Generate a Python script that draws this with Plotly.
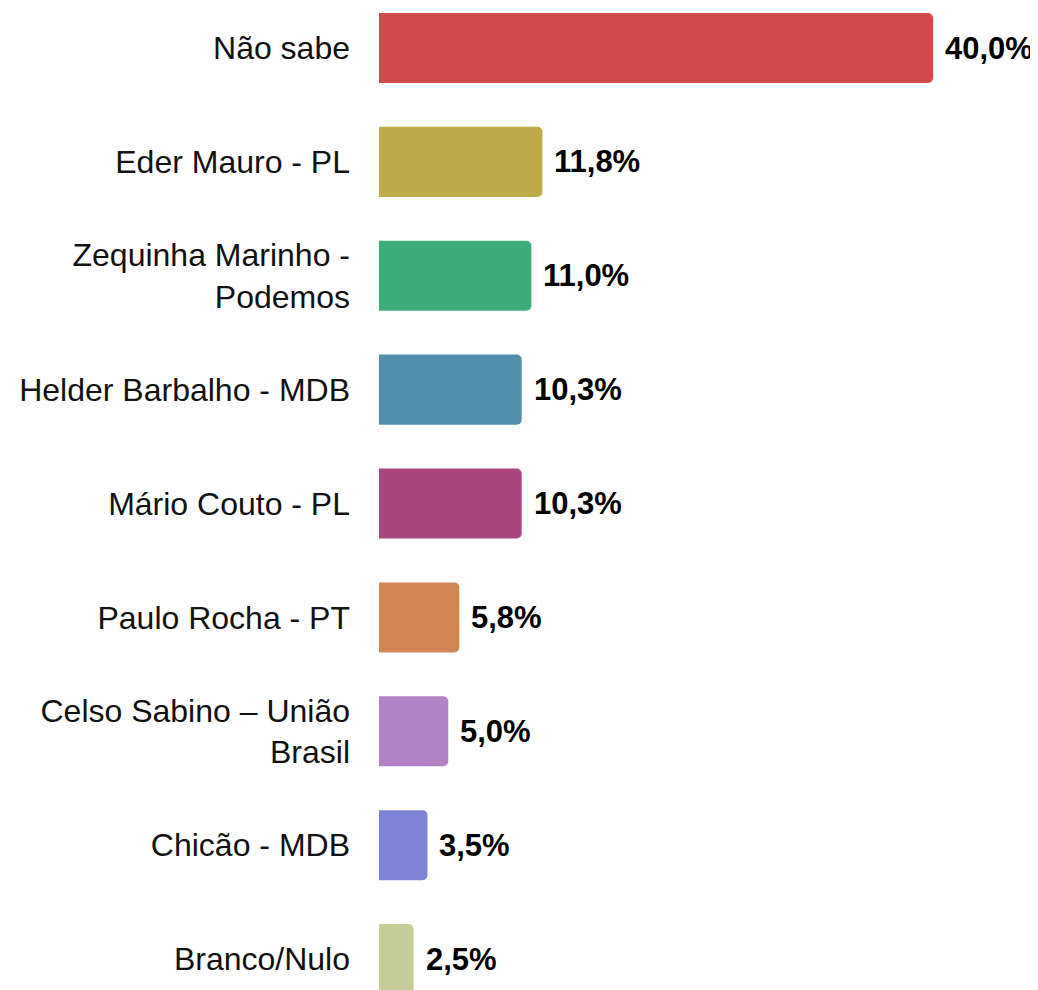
import plotly.graph_objects as go

categories = [
    "Não sabe",
    "Eder Mauro - PL",
    "Zequinha Marinho -<br>Podemos",
    "Helder Barbalho - MDB",
    "Mário Couto - PL",
    "Paulo Rocha - PT",
    "Celso Sabino – União<br>Brasil",
    "Chicão - MDB",
    "Branco/Nulo",
]
values = [40.0, 11.8, 11.0, 10.3, 10.3, 5.8, 5.0, 3.5, 2.5]
value_labels = ["40,0%", "11,8%", "11,0%", "10,3%", "10,3%", "5,8%", "5,0%", "3,5%", "2,5%"]
colors = ["#D24A4C", "#C0A947", "#3CAC78", "#5090AC", "#AA4580",
          "#D08552", "#B582C6", "#7E85D6", "#C5CE98"]

FONT = "Liberation Sans, Arial, sans-serif"

fig = go.Figure(go.Bar(
    x=values, y=categories, orientation="h",
    marker=dict(color=colors, line=dict(width=0)),
    hoverinfo="skip",
))

for cat, v, lab in zip(categories, values, value_labels):
    fig.add_annotation(
        x=v, y=cat, text=f"<b>{lab}</b>", showarrow=False,
        xanchor="left", yanchor="middle", xshift=10,
        font=dict(family=FONT, size=31, color="#000000"),
    )

fig.update_layout(
    width=1030, height=982,
    margin=dict(l=371, r=0, t=0, b=0),
    paper_bgcolor="white", plot_bgcolor="white",
    bargap=0.385, barcornerradius=5,
    showlegend=False,
    font=dict(family=FONT, size=32, color="#111111"),
)
fig.update_xaxes(range=[0, 47.58], visible=False, showgrid=False, zeroline=False)
fig.update_yaxes(
    type="category", categoryorder="array", categoryarray=categories,
    range=[8.272, -0.3513], showgrid=False, zeroline=False, showline=False,
    ticks="", ticklabelstandoff=28,
    tickfont=dict(family=FONT, size=32, color="#111111"),
)

fig.write_html("out.html")
